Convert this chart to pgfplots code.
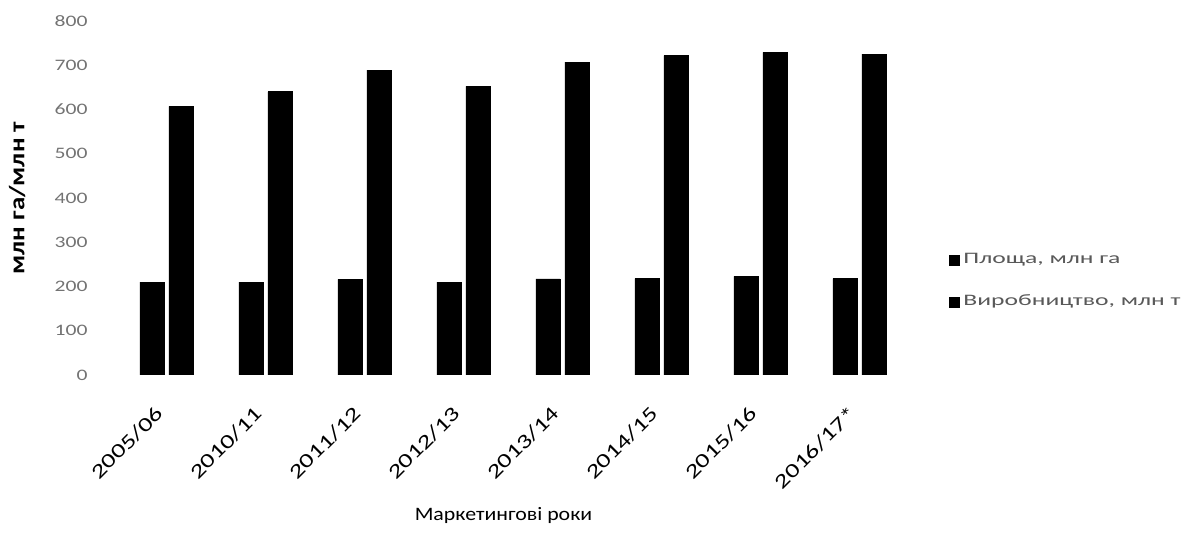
\documentclass[border=0pt]{standalone}
\usepackage{fontspec}
\setmainfont{Carlito}
\usepackage{pgfplots}
\pgfplotsset{compat=1.18}
\newcommand{\wide}[1]{\scalebox{1.35}[1]{#1}}
\begin{document}
\begin{tikzpicture}
\begin{axis}[
  at={(0,0)}, anchor=south west,
  scale only axis,
  width=396pt, height=177pt,
  ymin=0, ymax=800,
  xmin=-0.5, xmax=7.5,
  ytick={0,100,...,800},
  xtick={0,...,7},
  xticklabels={\wide{2005/06},\wide{2010/11},\wide{2011/12},\wide{2012/13},\wide{2013/14},\wide{2014/15},\wide{2015/16},\wide{2016/17*}},
  axis line style={draw=none},
  major tick length=0pt,
  ybar, bar width=12pt,
  /pgf/number format/assume math mode=true,
  yticklabel style={font=\fontsize{8}{10}\selectfont, text=black!55, anchor=east, xshift=-10pt, xscale=1.35},
  xticklabel style={font=\fontsize{10}{12}\selectfont, rotate=45, anchor=north east,
    xshift=-11.3pt, yshift=-2.9pt},
  ylabel={\bfseries млн га/млн т},
  ylabel style={font=\fontsize{11}{13}\selectfont, at={(axis description cs:-0.126,0.5)}, anchor=center, xscale=1.22},
  xlabel={Маркетингові роки},
  xlabel style={font=\fontsize{9.5}{11}\selectfont, at={(axis description cs:0.488,0)}, anchor=center, yshift=-70pt, xscale=1.15},
  legend style={draw=none, at={(axis description cs:1.05,0.265)}, anchor=west,
    font=\fontsize{8}{10}\selectfont, text=black!65, row sep=10pt, inner sep=0pt},
  legend cell align=left,
  legend image code/.code={\fill[black] (0cm,-0.09cm) rectangle (0.17cm,0.08cm);},
]
\addplot[fill=black, draw=black, bar shift=-7.25pt] coordinates {
  (0,210) (1,210) (2,216) (3,210) (4,217) (5,218) (6,223) (7,218)};
\addlegendentry{\scalebox{1.6}[1]{Площа, млн га}}
\addplot[fill=black, draw=black, bar shift=7.25pt] coordinates {
  (0,607) (1,640) (2,689) (3,652) (4,707) (5,722) (6,729) (7,725)};
\addlegendentry{\scalebox{1.6}[1]{Виробництво, млн т}}
\end{axis}
\pgfresetboundingbox
\useasboundingbox (-58.5pt,-85pt) rectangle (539pt,187.5pt);
\end{tikzpicture}
\end{document}
